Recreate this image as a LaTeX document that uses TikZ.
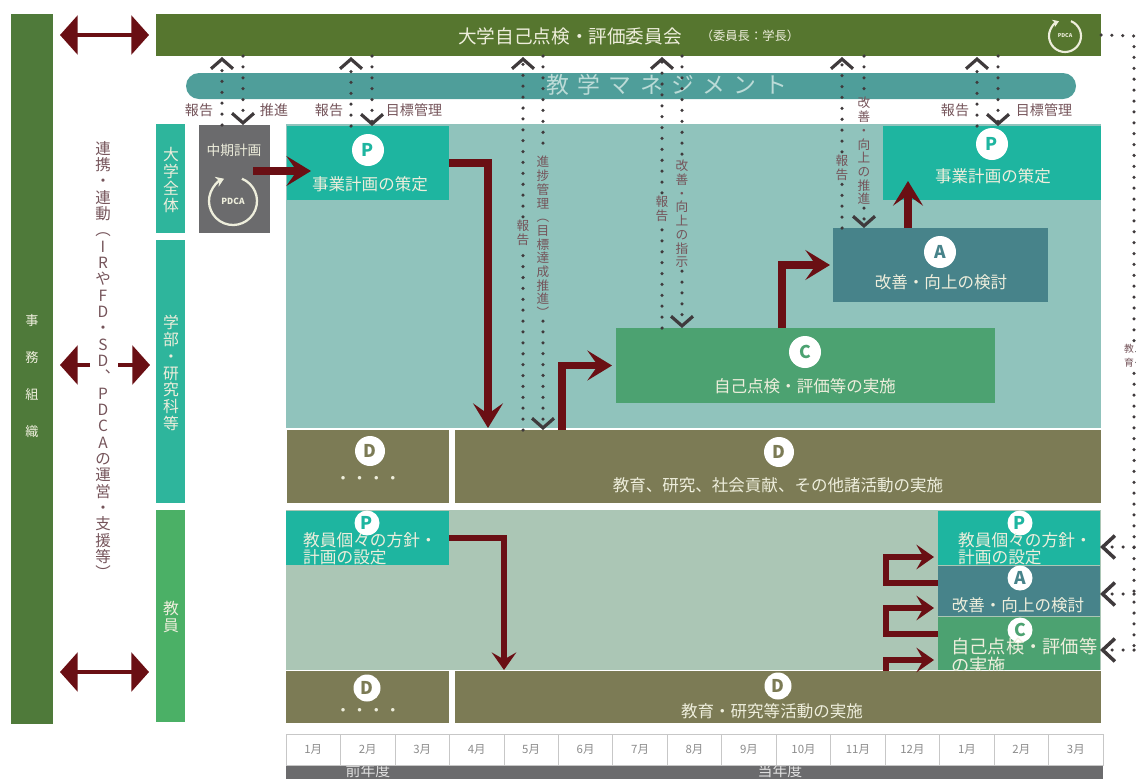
\documentclass[tikz,border=0pt]{standalone}
\usepackage{fontspec}
\setmainfont{Noto Sans CJK JP}
\newfontfamily\widefont[LetterSpace=36]{Noto Sans CJK JP}
\usetikzlibrary{arrows.meta,calc}
\definecolor{leafbar}{HTML}{56762F}
\definecolor{staffbar}{HTML}{4F7A3A}
\definecolor{pillteal}{HTML}{4F9E9A}
\definecolor{sideteal}{HTML}{2EB59C}
\definecolor{sidegreen}{HTML}{4BB066}
\definecolor{slate}{HTML}{6B6B6D}
\definecolor{wideteal}{HTML}{90C3BC}
\definecolor{widesage}{HTML}{ABC6B5}
\definecolor{planc}{HTML}{1EB5A0}
\definecolor{actc}{HTML}{47838A}
\definecolor{checkc}{HTML}{4CA271}
\definecolor{doc}{HTML}{7C7B55}
\definecolor{wine}{HTML}{6A0F14}
\definecolor{dotc}{HTML}{3F3A3C}
\definecolor{labc}{HTML}{75545A}
\definecolor{palet}{HTML}{EEEEDC}
\tikzset{
	cell/.style 2 args={anchor=north west, inner sep=0, outer sep=0, minimum width=#1*0.02cm, minimum height=#2*0.02cm},
	badge/.style={circle, fill=white, inner sep=0, minimum size=#1*0.02cm, font=\fontsize{10}{10}\selectfont\bfseries},
	boxtext/.style={text=palet, font=\fontsize{9.4}{9.4}\selectfont},
	twolines/.style={text=palet, align=left, anchor=west, font=\fontsize{9.5}{7.3}\selectfont},
	sidetext/.style={text=palet, align=center, font=\fontsize{9}{9.6}\selectfont},
	vlab/.style={text=labc, align=center, inner sep=0.06cm, font=\fontsize{7.2}{7.8}\selectfont},
	hlab/.style={text=labc, font=\fontsize{8}{8}\selectfont},
	month/.style={cell={54.47}{31}, draw=black!22, fill=white, text=black!45, font=\fontsize{6.5}{6.5}\selectfont},
	redline/.style={draw=wine, line width=4.2pt, -{Stealth[length=14pt,width=17pt,inset=6pt]}},
	redthin/.style={draw=wine, line width=3.4pt, -{Stealth[length=10pt,width=14pt,inset=4pt]}},
	tworoad/.style={draw=wine, line width=1.8pt, -{Triangle[length=10pt,width=22pt]}},
	dotline/.style={draw=dotc, line width=2pt, line cap=round, dash pattern=on 0pt off 6.2pt},
	dotarrow/.style={dotline, -{Straight Barb[length=5.5pt,width=12.5pt,line width=1.8pt]}},
	outerarrow/.style={dotline, -{Straight Barb[length=7pt,width=13pt,line width=2pt]}}
}
\def\pdcaring[#1](#2)(#3){\draw[#1] ($(#2)+({#3*cos(68)},{#3*sin(68)})$) arc (68:-248:#3);}

\begin{document}
\begin{tikzpicture}[x=0.02cm,y=0.02cm]
		%%%%% START %%%%%
		\useasboundingbox (0,0) rectangle (1136,-778);
		\clip (0,0) rectangle (1136,-778);
		
		\node[cell={42}{710}, fill=staffbar] (staffBar) at (11,-14) {};
		\node[text=palet, align=center, font=\fontsize{7.5}{21}\selectfont] (staffText) at (32,-376) {事\\務\\組\\織};
		\node[cell={945}{42}, fill=leafbar] (topBar) at (156,-14) {};
		\node[text=palet, font=\fontsize{10.6}{10.6}\selectfont] (topText) at (570,-36) {大学自己点検・評価委員会};
		\node[text=palet, font=\fontsize{7}{7}\selectfont] (topNote) at (750,-36) {（委員長：学長）};
		\node[cell={890}{26}, fill=pillteal, rounded corners=0.26cm] (mgmtPill) at (186,-73) {};
		\node[text=wideteal!60!white, font=\widefont\fontsize{13}{13}\selectfont] (mgmtText) at (667,-85) {教学マネジメント};
		
		\node[cell={29}{109}, fill=sideteal] (uniSide) at (156,-124) {};
		\node[sidetext] (uniText) at (171,-180) {大\\学\\全\\体};
		\node[cell={29}{263}, fill=sideteal] (facSide) at (156,-240) {};
		\node[sidetext] (facText) at (171,-373) {学\\部\\・\\研\\究\\科\\等};
		\node[cell={29}{212}, fill=sidegreen] (staffSide) at (156,-510) {};
		\node[sidetext] (staffSideText) at (171,-617) {教\\員};
		
		\node[cell={71}{108}, fill=slate] (midPlan) at (199,-125) {};
		\node[text=palet, font=\fontsize{7.8}{7.8}\selectfont] (midText) at (234,-150) {中期計画};
		\node[text=palet, font=\fontsize{4.8}{4.8}\selectfont\bfseries] (pdcaMid) at (233,-201) {PDCA};
		\pdcaring[draw=palet, line width=1.3pt, -{Stealth[length=4.5pt,width=6pt]}](pdcaMid)(24);
		
		\node[cell={815}{304}, fill=wideteal] (wideTop) at (286,-124) {};
		\node[cell={162}{74}, fill=planc] (planFirst) at (287,-126) {};
		\node[badge=32, text=planc] (planFirstBadge) at (368,-150) {P};
		\node[boxtext] (planFirstText) at (370,-184) {事業計画の策定};
		\node[cell={218}{74}, fill=planc] (planLast) at (883,-126) {};
		\node[badge=32, text=planc] (planLastBadge) at (992,-144) {P};
		\node[boxtext] (planLastText) at (993,-176) {事業計画の策定};
		\node[cell={215}{74}, fill=actc] (actBox) at (833,-228) {};
		\node[badge=32, text=actc] (actBadge) at (940,-252) {A};
		\node[boxtext] (actText) at (941,-282) {改善・向上の検討};
		\node[cell={379}{75}, fill=checkc] (checkBox) at (616,-328) {};
		\node[badge=32, text=checkc] (checkBadge) at (805,-352) {C};
		\node[boxtext] (checkText) at (805,-386) {自己点検・評価等の実施};
		\node[cell={162}{73}, fill=doc] (doLeft) at (287,-430) {};
		\node[badge=30, text=doc] (doLeftBadge) at (370,-451) {D};
		\node[boxtext] (doLeftText) at (368,-480) {・・・・};
		\node[cell={646}{73}, fill=doc] (doRight) at (455,-430) {};
		\node[badge=30, text=doc] (doRightBadge) at (779,-452) {D};
		\node[boxtext] (doRightText) at (778,-485) {教育、研究、社会貢献、その他諸活動の実施};
		
		\node[cell={815}{160}, fill=widesage] (wideLow) at (286,-510) {};
		\node[cell={163}{54}, fill=planc] (planStaffA) at (286,-511) {};
		\node[badge=25, text=planc] (planStaffABadge) at (367,-523) {P};
		\node[twolines] (planStaffAText) at (297,-549) {教員個々の方針・\\計画の設定};
		\node[cell={162}{54}, fill=planc] (planStaffB) at (938,-511) {};
		\node[badge=25, text=planc] (planStaffBBadge) at (1020,-523) {P};
		\node[twolines] (planStaffBText) at (952,-549) {教員個々の方針・\\計画の設定};
		\node[cell={162}{50}, fill=actc] (actStaff) at (938,-566) {};
		\node[badge=25, text=actc] (actStaffBadge) at (1020,-578) {A};
		\node[boxtext] (actStaffText) at (1018,-605) {改善・向上の検討};
		\node[cell={162}{53}, fill=checkc] (checkStaff) at (938,-617) {};
		\node[badge=25, text=checkc] (checkStaffBadge) at (1020,-630) {C};
		\node[twolines, font=\fontsize{10.4}{7.2}\selectfont] (checkStaffText) at (945,-656) {自己点検・評価等\\の実施};
		\node[cell={163}{52}, fill=doc] (doStaffA) at (286,-671) {};
		\node[badge=27, text=doc] (doStaffABadge) at (367,-688) {D};
		\node[boxtext] (doStaffAText) at (368,-712) {・・・・};
		\node[cell={646}{52}, fill=doc] (doStaffB) at (455,-671) {};
		\node[badge=27, text=doc] (doStaffBBadge) at (778,-686) {D};
		\node[boxtext] (doStaffBText) at (772,-711) {教育・研究等活動の実施};
		
		\node[cell={817}{15}, fill=slate] (yearStrip) at (286,-764) {};
		\node[text=black!12, font=\fontsize{8.5}{8.5}\selectfont] (yearPast) at (368,-771) {前年度};
		\node[text=black!12, font=\fontsize{8.5}{8.5}\selectfont] (yearNow) at (780,-771) {当年度};
		\node[month] (mA) at (286,-734) {1月};
		\node[month] (mB) at (340.47,-734) {2月};
		\node[month] (mC) at (394.94,-734) {3月};
		\node[month] (mD) at (449.41,-734) {4月};
		\node[month] (mE) at (503.88,-734) {5月};
		\node[month] (mF) at (558.35,-734) {6月};
		\node[month] (mG) at (612.82,-734) {7月};
		\node[month] (mH) at (667.29,-734) {8月};
		\node[month] (mI) at (721.76,-734) {9月};
		\node[month] (mJ) at (776.23,-734) {10月};
		\node[month] (mK) at (830.7,-734) {11月};
		\node[month] (mL) at (885.17,-734) {12月};
		\node[month] (mM) at (939.64,-734) {1月};
		\node[month] (mN) at (994.11,-734) {2月};
		\node[month] (mO) at (1048.58,-734) {3月};
		
		\node[text=labc, align=center, font=\fontsize{8.8}{9.3}\selectfont] (linkText) at (103,-360) {連\\携\\・\\連\\動\\︵\\I\\R\\や\\F\\D\\・\\S\\D\\︑\\P\\D\\C\\A\\の\\運\\営\\・\\支\\援\\等\\︶};
		\coordinate (linkLeft) at (90,-365);
		\coordinate (linkRight) at (118,-365);
		\coordinate (linkLow) at (100,-672);
		\draw[tworoad, shorten >=0.14cm, shorten <=0.14cm, {Triangle[length=10pt,width=22pt]}-{Triangle[length=10pt,width=22pt]}] (staffBar.east |- topBar.west) -- (topBar.west);
		\draw[tworoad, shorten >=0.14cm] (linkLeft) -- (linkLeft -| staffBar.east);
		\draw[tworoad, shorten >=0.12cm] (linkRight) -- (linkRight -| facSide.west);
		\draw[tworoad, shorten >=0.14cm, shorten <=0.14cm, {Triangle[length=10pt,width=22pt]}-{Triangle[length=10pt,width=22pt]}] (linkLow -| staffBar.east) -- (linkLow -| staffSide.west);
		
		\coordinate (midFrom) at (253,-171);
		\coordinate (midTo) at (311,-171);
		\draw[redline] (midFrom) -- (midTo);
		\coordinate (planTurn) at (488,-428);
		\draw[redline] (planFirst.east) -| (planTurn);
		\coordinate (doFrom) at (562,-430);
		\draw[redline, shorten >=0.08cm] (doFrom) |- (checkBox.west);
		\coordinate (checkFrom) at (782,-328);
		\draw[redline, shorten >=0.06cm] (checkFrom) |- (actBox.west);
		\coordinate (actFrom) at (908,-228);
		\coordinate (actTo) at (908,-181);
		\draw[redline] (actFrom) -- (actTo);
		
		\coordinate (staffTurn) at (504,-670);
		\draw[redthin] (planStaffA.east) -| (staffTurn);
		\coordinate (bendA) at (886,-557);
		\coordinate (bendB) at (886,-608);
		\coordinate (bendC) at (886,-660);
		\coordinate (actTail) at (938,-583);
		\coordinate (checkTail) at (938,-634);
		\coordinate (doTail) at (886,-671);
		\draw[redthin, shorten >=0.08cm] (actTail) -| (bendA) -- (bendA -| planStaffB.west);
		\draw[redthin, shorten >=0.08cm] (checkTail) -| (bendB) -- (bendB -| actStaff.west);
		\draw[redthin, shorten >=0.08cm] (doTail) -- (bendC) -- (bendC -| checkStaff.west);
		
		\coordinate (upA) at (222,-57);
		\coordinate (downA) at (243,-56);
		\draw[dotarrow] (upA |- midPlan.north) -- (upA);
		\draw[dotarrow] (downA) -- (downA |- midPlan.north);
		\node[hlab] (reportA) at (199,-110) {報告};
		\node[hlab] (pushA) at (274,-110) {推進};
		
		\coordinate (upB) at (351,-57);
		\coordinate (downB) at (372,-56);
		\draw[dotarrow] (upB |- planFirst.north) -- (upB);
		\draw[dotarrow] (downB) -- (downB |- planFirst.north);
		\node[hlab] (reportB) at (329,-110) {報告};
		\node[hlab] (goalB) at (414,-110) {目標管理};
		
		\coordinate (upC) at (523,-57);
		\coordinate (downC) at (543,-56);
		\node[vlab] (reportC) at (523,-233) {報\\告};
		\node[vlab] (pushC) at (543,-237) {進\\捗\\管\\理\\︵\\目\\標\\達\\成\\推\\進\\︶};
		\draw[dotline] (upC |- doRight.north) -- (reportC.south);
		\draw[dotarrow] (reportC.north) -- (upC);
		\draw[dotline] (downC) -- (pushC.north);
		\draw[dotarrow] (pushC.south) -- (downC |- doRight.north);
		
		\coordinate (upD) at (662,-57);
		\coordinate (downD) at (682,-56);
		\node[vlab] (reportD) at (662,-209) {報\\告};
		\node[vlab] (fixD) at (682,-214) {改\\善\\・\\向\\上\\の\\指\\示};
		\draw[dotline] (upD |- checkBox.north) -- (reportD.south);
		\draw[dotarrow] (reportD.north) -- (upD);
		\draw[dotline] (downD) -- (fixD.north);
		\draw[dotarrow] (fixD.south) -- (downD |- checkBox.north);
		
		\coordinate (upE) at (842,-57);
		\coordinate (downE) at (864,-56);
		\node[vlab] (reportE) at (842,-168) {報\\告};
		\node[vlab] (fixE) at (864,-151) {改\\善\\・\\向\\上\\の\\推\\進};
		\draw[dotline] (upE |- actBox.north) -- (reportE.south);
		\draw[dotarrow] (reportE.north) -- (upE);
		\draw[dotline] (downE) -- (fixE.north);
		\draw[dotarrow] (fixE.south) -- (downE |- actBox.north);
		
		\coordinate (upF) at (977,-57);
		\coordinate (downF) at (998,-56);
		\draw[dotarrow] (upF |- planLast.north) -- (upF);
		\draw[dotarrow] (downF) -- (downF |- planLast.north);
		\node[hlab] (reportF) at (955,-110) {報告};
		\node[hlab] (goalF) at (1044,-110) {目標管理};
		
		\node[text=palet, font=\fontsize{3}{3}\selectfont\bfseries] (pdcaTop) at (1065,-36) {PDCA};
		\pdcaring[draw=palet, line width=1.2pt, -{Stealth[length=3.5pt,width=4.5pt]}](pdcaTop)(16);
		
		\coordinate (outerTop) at (1134,-36);
		\coordinate (outerP) at (1134,-547);
		\coordinate (outerA) at (1134,-594);
		\coordinate (outerC) at (1134,-650);
		\draw[dotline] (topBar.east) -- (outerTop) -- (outerC);
		\draw[outerarrow] (outerP) -- (outerP -| planStaffB.east);
		\draw[outerarrow] (outerA) -- (outerA -| actStaff.east);
		\draw[outerarrow] (outerC) -- (outerC -| checkStaff.east);
		\node[text=labc, fill=white, align=center, inner sep=0.02cm, font=\fontsize{5.6}{8}\selectfont] (outerText) at (1129,-356) {教\\育};
		%%%%% END %%%%%
	\end{tikzpicture}
\end{document}
